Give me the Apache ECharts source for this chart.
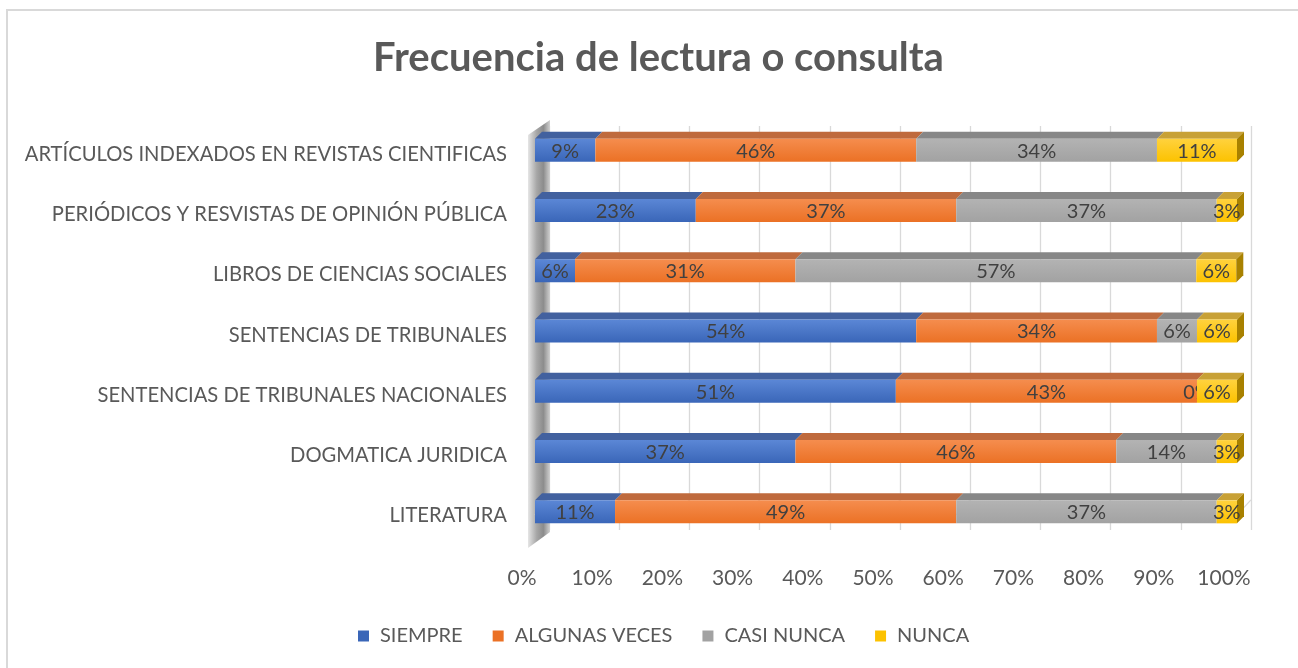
<!DOCTYPE html>
<html>
<head>
<meta charset="utf-8">
<title>Frecuencia de lectura o consulta</title>
<script src="https://cdn.jsdelivr.net/npm/echarts@6/dist/echarts.min.js"></script>
<style type="text/css">
html, body { margin:0; height:100%; background:#fff; }
</style>
</head>
<body>
<div id="main" style="width:1298px;height:668px;"></div>
<script type="text/javascript">
// categorias (de abajo hacia arriba, como las dibuja echarts)
var categorias = [
    'LITERATURA',
    'DOGMATICA JURIDICA',
    'SENTENCIAS DE TRIBUNALES NACIONALES',
    'SENTENCIAS DE TRIBUNALES',
    'LIBROS DE CIENCIAS SOCIALES',
    'PERIÓDICOS Y RESVISTAS DE OPINIÓN PÚBLICA',
    'ARTÍCULOS INDEXADOS EN REVISTAS CIENTIFICAS'
];
var siempre      = [11.4, 37.1, 51.4, 54.3, 5.7, 22.9, 8.6];
var algunasVeces = [48.6, 45.7, 42.9, 34.3, 31.4, 37.1, 45.7];
var casiNunca    = [37.1, 14.3, 0, 5.7, 57.1, 37.1, 34.3];
var nunca        = [2.9, 2.9, 5.7, 5.7, 5.7, 2.9, 11.4];
var ticks = [0, 10, 20, 30, 40, 50, 60, 70, 80, 90, 100];

var nombres = ['SIEMPRE', 'ALGUNAS VECES', 'CASI NUNCA', 'NUNCA'];
var valores = [siempre, algunasVeces, casiNunca, nunca];
// frente, cara superior, cara lateral, claro (degradado)
var colores = [
    ['#3a66b8', '#42619f', '#2f5597', '#5b87d6'],
    ['#eb7125', '#bf6a3d', '#b85d22', '#f58d4e'],
    ['#a2a2a2', '#878787', '#7c7c7c', '#b3b3b3'],
    ['#fcc200', '#c8a136', '#a88100', '#ffd23e']
];
var DX = 7, DY = 7, ALTO = 23;

var textoColor = '#595959';
var fuente = 'Lato, "Open Sans", sans-serif';

// acumulados para apilar
var series = [];
var acumulado = categorias.map(function () { return 0; });
for (var s = 0; s < valores.length; s++) {
    var datos = [];
    for (var i = 0; i < categorias.length; i++) {
        var ini = acumulado[i];
        var fin = ini + valores[s][i];
        acumulado[i] = fin;
        datos.push([ini, fin, i, valores[s][i]]);
    }
    (function (idx) {
        series.push({
            name: nombres[idx],
            type: 'custom',
            xAxisIndex: 0,
            yAxisIndex: 0,
            z: 10 + idx,
            itemStyle: { color: colores[idx][0] },
            encode: { x: [0, 1], y: 2 },
            data: datos,
            renderItem: function (params, api) {
                var p0 = api.coord([api.value(0), api.value(2)]);
                var p1 = api.coord([api.value(1), api.value(2)]);
                var x0 = p0[0], x1 = p1[0], yc = p0[1];
                var yt = yc - ALTO / 2, yb = yc + ALTO / 2;
                var c = colores[idx];
                var hijos = [
                    {
                        type: 'polygon',
                        shape: { points: [[x0, yt], [x1, yt], [x1 + DX, yt - DY], [x0 + DX, yt - DY]] },
                        style: { fill: c[1] }
                    },
                    {
                        type: 'rect',
                        shape: { x: x0, y: yt, width: x1 - x0, height: ALTO },
                        style: {
                            fill: new echarts.graphic.LinearGradient(0, 0, 0, 1, [
                                { offset: 0, color: c[3] },
                                { offset: 1, color: c[0] }
                            ])
                        }
                    }
                ];
                if (api.value(1) >= 99.5) {
                    hijos.push({
                        type: 'polygon',
                        shape: { points: [[x1, yt], [x1 + DX, yt - DY], [x1 + DX, yb - DY], [x1, yb]] },
                        style: { fill: c[2] }
                    });
                }
                hijos.push({
                    type: 'text',
                    z2: 20,
                    style: {
                        x: (x0 + x1) / 2,
                        y: yc + 1,
                        text: Math.round(api.value(3)) + '%',
                        align: 'center',
                        verticalAlign: 'middle',
                        fill: '#404040',
                        font: '20px ' + fuente
                    }
                });
                return { type: 'group', children: hijos };
            }
        });
    })(s);
}

// lineas del piso (diagonales)
series.push({
    type: 'custom',
    xAxisIndex: 0,
    yAxisIndex: 0,
    z: 2,
    silent: true,
    data: ticks.map(function (t) { return [t]; }),
    renderItem: function (params, api) {
        var p = api.coord([api.value(0), -0.5]);
        return {
            type: 'line',
            shape: { x1: p[0], y1: p[1] + 3, x2: p[0] + 14, y2: p[1] - 12 },
            style: { stroke: '#d9d9d9', lineWidth: 1.3 }
        };
    }
});

var myChart = echarts.init(document.getElementById('main'));
var option = {
    backgroundColor: '#fff',
    animation: false,
    title: {
        text: 'Frecuencia de lectura o consulta',
        left: 368,
        top: 33,
        textStyle: { fontFamily: fuente, fontSize: 40, fontWeight: 'bold', color: textoColor }
    },
    legend: {
        data: nombres,
        bottom: 17,
        left: 353,
        itemWidth: 11,
        itemHeight: 11,
        itemGap: 30,
        icon: 'rect',
        textStyle: { fontFamily: fuente, fontSize: 20, color: textoColor, padding: [0, 0, 0, 6] }
    },
    graphic: [
        {
            type: 'rect',
            shape: { x: 7, y: 10, width: 1400, height: 800 },
            style: { fill: null, stroke: '#d9d9d9', lineWidth: 2 },
            silent: true,
            z: -10
        },
        {
            type: 'polygon',
            shape: { points: [[528, 135], [550, 120], [550, 532], [528, 548]] },
            style: {
                fill: new echarts.graphic.LinearGradient(0, 0, 1, 0, [
                    { offset: 0, color: '#e6e6e6' },
                    { offset: 0.4, color: '#a6a6a6' },
                    { offset: 0.7, color: '#8c8c8c' },
                    { offset: 1, color: '#d0d0d0' }
                ])
            },
            silent: true,
            z: 1
        }
    ],
    grid: [
        { left: 535, width: 702, top: 120, height: 422 },   // barras (frente)
        { left: 549, width: 702, top: 126, height: 404 },   // pared del fondo
        { left: 522, width: 702, top: 120, height: 427 },   // etiquetas eje x
        { left: 533, width: 702, top: 124, height: 422 }    // etiquetas categorias
    ],
    xAxis: [
        { gridIndex: 0, type: 'value', min: 0, max: 100, interval: 10, show: false },
        {
            gridIndex: 1, type: 'value', min: 0, max: 100, interval: 10,
            axisLine: { show: false }, axisTick: { show: false }, axisLabel: { show: false },
            splitLine: { show: true, lineStyle: { color: '#d9d9d9', width: 1.3 } }
        },
        {
            gridIndex: 2, type: 'value', min: 0, max: 100, interval: 10,
            axisLine: { show: false }, axisTick: { show: false }, splitLine: { show: false },
            axisLabel: {
                margin: 21,
                fontFamily: fuente, fontSize: 21, color: textoColor,
                formatter: function (v) { return v + '%'; }
            }
        },
        { gridIndex: 3, type: 'value', min: 0, max: 100, show: false }
    ],
    yAxis: [
        { gridIndex: 0, type: 'category', data: categorias, show: false },
        { gridIndex: 1, type: 'category', data: categorias, show: false },
        { gridIndex: 2, type: 'category', data: categorias, show: false },
        {
            gridIndex: 3, type: 'category', data: categorias,
            axisLine: { show: false }, axisTick: { show: false },
            axisLabel: { margin: 26, fontFamily: fuente, fontSize: 20.2, color: textoColor }
        }
    ],
    series: series
};
myChart.setOption(option);
</script>
</body>
</html>
